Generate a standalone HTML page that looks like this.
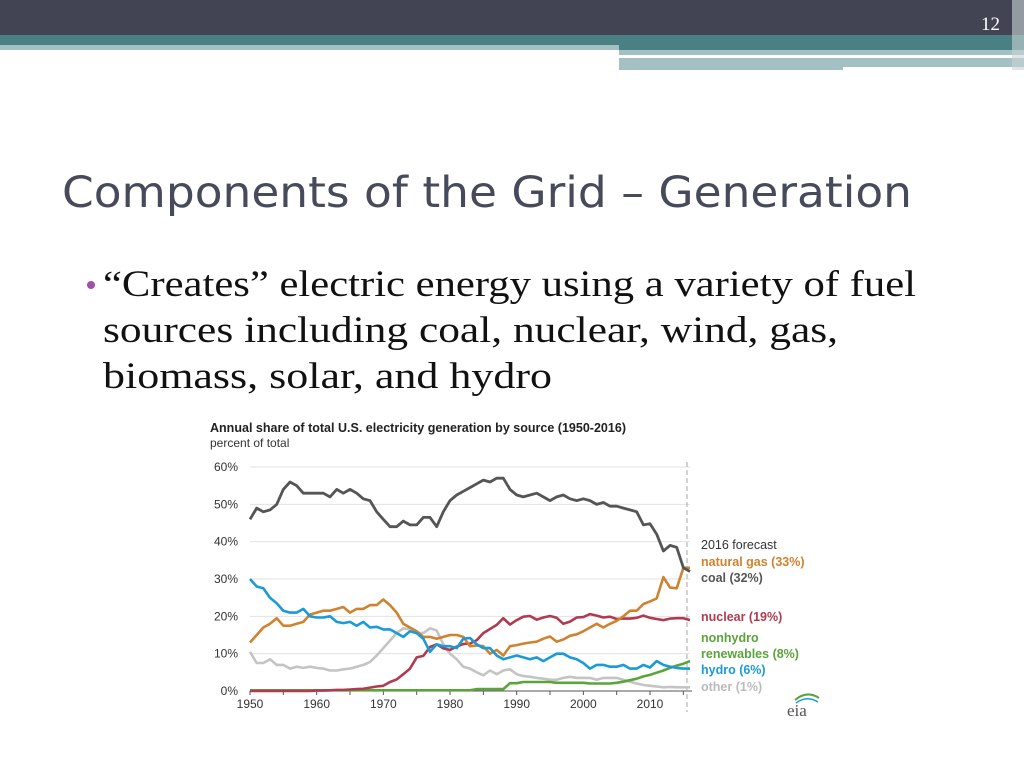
<!DOCTYPE html>
<html><head><meta charset="utf-8"><style>
html,body{margin:0;padding:0;background:#fff;}
svg{display:block;}
</style></head><body>
<svg id="s" width="1024" height="768" viewBox="0 0 1024 768" xmlns="http://www.w3.org/2000/svg">
<rect x="0" y="0" width="1024" height="768" fill="#fff"/>
<rect x="0" y="0" width="1024" height="35" fill="#434453"/>
<rect x="0" y="35" width="1024" height="10" fill="#4a7f84"/>
<rect x="0" y="45" width="619" height="5" fill="#a3c0c3"/>
<rect x="619" y="45" width="405" height="5" fill="#4a7f84"/>
<rect x="619" y="50" width="405" height="5" fill="#a3c0c3"/>
<rect x="619" y="58" width="405" height="12" fill="#a3c0c3"/>
<rect x="843" y="67" width="181" height="3" fill="#fff"/>
<rect x="1012" y="0" width="12" height="70" fill="#c9d3d6" opacity="0.6"/>
<text x="1000" y="30" text-anchor="end" font-family="Liberation Serif, serif" font-size="19" fill="#fff">12</text>
<text x="62" y="207" font-family="DejaVu Sans, sans-serif" font-size="43" fill="#474a5a" textLength="850" lengthAdjust="spacingAndGlyphs">Components of the Grid – Generation</text>
<circle cx="91" cy="285" r="4" fill="#a050a8"/>
<g font-family="Liberation Serif, serif" font-size="37" fill="#111">
<text x="103" y="296" textLength="813" lengthAdjust="spacingAndGlyphs">“Creates” electric energy using a variety of fuel</text>
<text x="103" y="342" textLength="735" lengthAdjust="spacingAndGlyphs">sources including coal, nuclear, wind, gas,</text>
<text x="103" y="388" textLength="449" lengthAdjust="spacingAndGlyphs">biomass, solar, and hydro</text>
</g>
<g font-family="Liberation Sans, sans-serif">
<text x="210" y="432" font-size="12.5" font-weight="bold" fill="#222" textLength="416" lengthAdjust="spacingAndGlyphs">Annual share of total U.S. electricity generation by source (1950-2016)</text>
<text x="210" y="447" font-size="12" fill="#333">percent of total</text>
<g id="grid" stroke="#e2e2e2" stroke-width="1"></g>
<g id="ylab" font-size="12" fill="#333" text-anchor="end"></g>
<g id="xlab" font-size="12" fill="#333" text-anchor="middle"></g>
<line x1="250" y1="691" x2="692" y2="691" stroke="#555" stroke-width="1"/>
<g id="ticks" stroke="#555"></g>
<line x1="687" y1="462" x2="687" y2="712" stroke="#aaa" stroke-width="1" stroke-dasharray="5,3"/>
<g id="lines" fill="none" stroke-width="2.6" stroke-linejoin="round"></g>
<g font-size="12.5" font-weight="bold">
<text x="701" y="549" fill="#333" font-weight="normal">2016 forecast</text>
<text x="701" y="566" fill="#d0832f">natural gas (33%)</text>
<text x="701" y="582" fill="#555">coal (32%)</text>
<text x="701" y="621" fill="#b03b50">nuclear (19%)</text>
<text x="701" y="642" fill="#5aa43a">nonhydro</text>
<text x="701" y="658" fill="#5aa43a">renewables (8%)</text>
<text x="701" y="674" fill="#1a9ad8">hydro (6%)</text>
<text x="701" y="691" fill="#bbb">other (1%)</text>
</g>
<path d="M795 700 q12 -10 24 -2" stroke="#5aa43a" stroke-width="2" fill="none"/>
<path d="M796 703 q11 -8 22 -1" stroke="#1a9ad8" stroke-width="1.5" fill="none"/>
<text x="787" y="716" font-family="Liberation Serif, serif" font-size="17" fill="#555">eia</text>
</g>
</svg>
<script>
var NS="http://www.w3.org/2000/svg";
function X(y){return 250+(y-1950)*6.667;}
function Y(v){return 691-v*3.733;}
function el(p,t,a){var e=document.createElementNS(NS,t);for(var k in a)e.setAttribute(k,a[k]);document.getElementById(p).appendChild(e);return e;}
for(var i=0;i<=6;i++){var y=Y(i*10);if(i>0)el("grid","line",{x1:250,y1:y,x2:690,y2:y});var t=el("ylab","text",{x:238,y:y+4});t.textContent=i*10+"%";}
for(var yr=1950;yr<=2010;yr+=10){var t=el("xlab","text",{x:X(yr),y:708});t.textContent=yr;}
for(var yr=1950;yr<=2016;yr+=5){el("ticks","line",{x1:X(yr),y1:691,x2:X(yr),y2:695});}
var coal=[46,49,48,48.5,50,54,56,55,53,53,53,53,52,54,53,54,53,51.5,51,48,46,44,44,45.5,44.5,44.5,46.5,46.5,44,48,51,52.5,53.5,54.5,55.5,56.5,56,57,57,54,52.5,52,52.5,53,52,51,52,52.5,51.5,51,51.5,51,50,50.5,49.5,49.5,49,48.5,48,44.5,44.8,42,37.5,39,38.5,33,32];
var gas=[13,15,17,18,19.5,17.5,17.5,18,18.5,20.5,21,21.5,21.5,22,22.5,21,22,22,23,23,24.5,23,21,18,17,16,14.5,14.5,14,14.5,15,15,14.5,12,12.2,12,10,11,9.5,12,12.3,12.7,13,13.2,14,14.6,13.2,13.8,14.8,15.2,16,17,18,17,18,18.8,20,21.5,21.5,23.3,24,24.8,30.5,27.7,27.5,33,33];
var nuc=[0,0,0,0,0,0,0,0,0,0,0.1,0.1,0.2,0.3,0.3,0.4,0.5,0.6,0.9,1.2,1.4,2.4,3.1,4.5,6,9,9.4,11.8,12.5,11.4,11,11.9,12.6,12.7,13.6,15.5,16.6,17.7,19.5,17.8,19,19.9,20.1,19.1,19.7,20.1,19.6,18,18.6,19.7,19.8,20.6,20.2,19.7,19.9,19.3,19.4,19.4,19.6,20.2,19.6,19.3,19,19.4,19.5,19.5,19];
var hyd=[30,28,27.5,25,23.5,21.5,21,21,22,20,19.7,19.7,20,18.5,18.2,18.5,17.5,18.5,17,17.2,16.5,16.5,15.5,14.5,16,15.5,14,10.5,12.5,12,12,11.5,14,14.2,12.5,11.5,11.5,9.5,8.5,9,9.5,9,8.5,9,8,9,10,10,9,8.5,7.5,6,7,7,6.5,6.5,7,6,6,7,6.3,8,7,6.5,6.2,6,6];
var oth=[10.5,7.5,7.5,8.5,7,7,6,6.5,6.2,6.5,6.2,6,5.5,5.5,5.8,6,6.5,7,7.8,9.5,11.5,13.5,15.5,16.8,16.5,15.5,15.5,16.8,16.2,12.5,10,8.5,6.5,6,5,4.2,5.5,4.5,5.5,5.8,4.5,4,3.8,3.5,3.3,3,3,3.5,3.8,3.5,3.5,3.5,3,3.5,3.5,3.5,3,2.5,2,1.6,1.4,1.2,1,1.1,1,1,1];
var ren=[];for(var i=0;i<=66;i++){var yr=1950+i,v=0.2;if(yr>=1984)v=0.5;if(yr>=1989)v=2.1;if(yr>=1991)v=2.4;if(yr>=1996)v=2.2;if(yr>=2001)v=2.0;
var late={2005:2.2,2006:2.5,2007:2.9,2008:3.3,2009:3.9,2010:4.3,2011:4.9,2012:5.5,2013:6.2,2014:6.8,2015:7.3,2016:8};if(late[yr])v=late[yr];ren.push(v);}
function line(d,c,w){var p=d.map(function(v,i){return X(1950+i).toFixed(1)+","+Y(v).toFixed(1);}).join(" ");el("lines","polyline",{points:p,stroke:c,"stroke-width":w||2.6});}
line(oth,"#c4c4c4");line(ren,"#5aa43a");line(nuc,"#b03b50");line(gas,"#d0832f");line(hyd,"#1a9ad8");line(coal,"#555",2.8);
</script>
</body></html>
